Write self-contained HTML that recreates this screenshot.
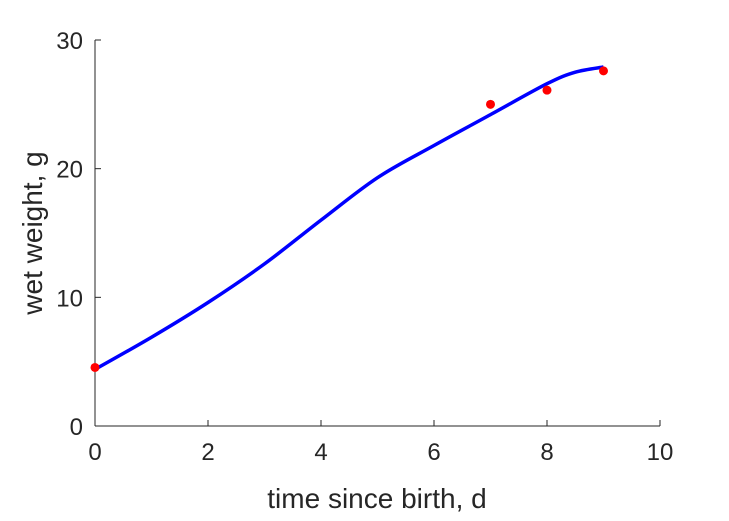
<!DOCTYPE html>
<html><head><meta charset="utf-8"><style>
body{margin:0;background:#fff;}
svg{display:block;font-family:"Liberation Sans",sans-serif;}
</style></head><body>
<svg id="chart" width="729" height="521" viewBox="0 0 729 521">
<g id="axes"></g><g id="marks"></g>
<text x="377" y="508" font-size="28" text-anchor="middle" fill="#262626">time since birth, d</text>
<text transform="translate(42,233) rotate(-90)" font-size="28" text-anchor="middle" fill="#262626">wet weight, g</text>
</svg>
<script>
const xTicks=[0,2,4,6,8,10];
const yTicks=[0,10,20,30];
const dataX=[0,7,8,9];
const dataY=[4.55,25.0,26.1,27.6];
const curveX=[0,1,2,3,4,5,6,7,8,8.5,9];
const curveY=[4.4,6.9,9.6,12.6,16.0,19.3,21.8,24.2,26.6,27.5,27.9];
const X0=95,X1=660,Y0=426,Y1=40;
const sx=v=>X0+(X1-X0)*v/10;
const sy=v=>Y0-(Y0-Y1)*v/30;
const NS="http://www.w3.org/2000/svg";
const axes=document.getElementById('axes'),marks=document.getElementById('marks');
function mk(tag,attrs,parent){const e=document.createElementNS(NS,tag);for(const k in attrs)e.setAttribute(k,attrs[k]);parent.appendChild(e);return e;}
let e=mk('line',{x1:X0,y1:Y0,x2:X1,y2:Y0,stroke:'#262626','stroke-width':1},axes);


e=mk('line',{x1:X0,y1:Y0,x2:X0,y2:Y1,stroke:'#262626','stroke-width':1},axes);


xTicks.forEach(t=>{
 mk('line',{x1:sx(t),y1:Y0,x2:sx(t),y2:Y0-6,stroke:'#262626'},axes);
 const tx=mk('text',{x:sx(t),y:Y0+34,'font-size':24,'text-anchor':'middle',fill:'#262626'},axes);
 tx.textContent=t;
 
 
});
yTicks.forEach(t=>{
 mk('line',{x1:X0,y1:sy(t),x2:X0+6,y2:sy(t),stroke:'#262626'},axes);
 const tx=mk('text',{x:X0-12,y:sy(t)+9,'font-size':24,'text-anchor':'end',fill:'#262626'},axes);
 tx.textContent=t;
 
 
});
// smooth curve via Catmull-Rom
const pts=curveX.map((x,i)=>[sx(x),sy(curveY[i])]);
let d='M'+pts[0][0]+','+pts[0][1];
for(let i=0;i<pts.length-1;i++){
 const p0=pts[Math.max(0,i-1)],p1=pts[i],p2=pts[i+1],p3=pts[Math.min(pts.length-1,i+2)];
 d+=` C${p1[0]+(p2[0]-p0[0])/6},${p1[1]+(p2[1]-p0[1])/6} ${p2[0]-(p3[0]-p1[0])/6},${p2[1]-(p3[1]-p1[1])/6} ${p2[0]},${p2[1]}`;
}
const path=mk('path',{d:d,fill:'none',stroke:'#0000ff','stroke-width':3.5},marks);


dataX.forEach((x,i)=>{
 const c=mk('circle',{cx:sx(x),cy:sy(dataY[i]),r:4.5,fill:'#ff0000'},marks);
 
 
});
</script>
</body></html>
